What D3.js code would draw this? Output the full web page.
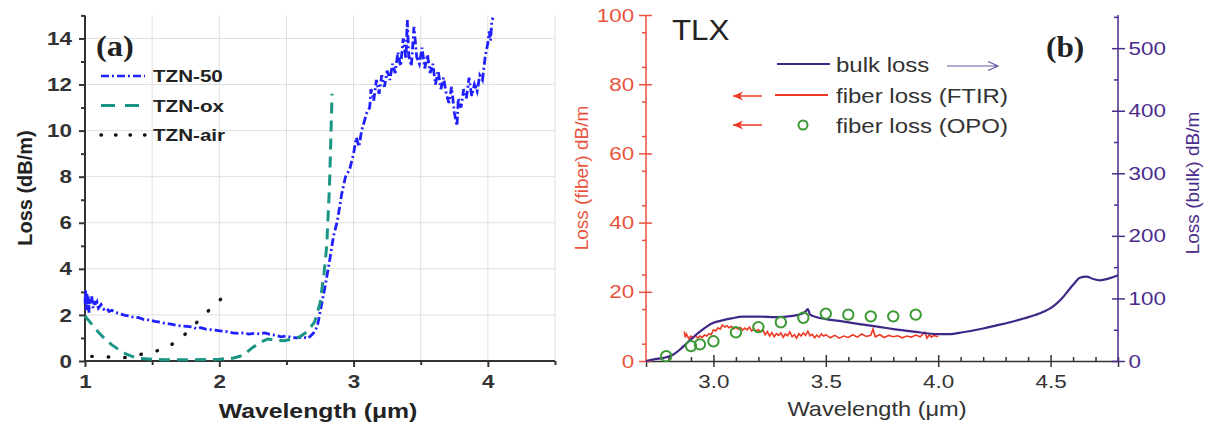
<!DOCTYPE html>
<html><head><meta charset="utf-8">
<script src="https://cdn.jsdelivr.net/npm/d3@7"></script>
<style>body{margin:0;background:#fff}svg{display:block}</style>
</head><body>
<svg id="c" width="1210" height="430"></svg>
<script>
// ---------- Panel (a) data ----------
const aXTicks = [1, 2, 3, 4];
const aYTicks = [0, 2, 4, 6, 8, 10, 12, 14];
const tzn50X = [1.00,1.005,1.01,1.015,1.02,1.025,1.03,1.035,1.04,1.05,1.06,1.07,1.08,1.09,1.10,1.12,1.14,1.16,1.18,1.20,1.23,1.26,1.30,1.33,1.36,1.40,1.44,1.48,1.52,1.56,1.60,1.64,1.68,1.72,1.76,1.80,1.83,1.86,1.90,1.94,1.98,2.02,2.06,2.10,2.14,2.18,2.22,2.26,2.30,2.34,2.38,2.42,2.46,2.50,2.54,2.58,2.62,2.66,2.70,2.73,2.76,2.79,2.82,2.85,2.88,2.91,2.94,2.97,3.00,3.02,3.04,3.06,3.08,3.10,3.12,3.13,3.15,3.17,3.19,3.21,3.23,3.25,3.27,3.29,3.31,3.33,3.35,3.37,3.39,3.40,3.41,3.43,3.45,3.47,3.49,3.51,3.53,3.55,3.57,3.59,3.61,3.63,3.65,3.67,3.69,3.71,3.73,3.75,3.77,3.78,3.80,3.82,3.84,3.86,3.88,3.90,3.92,3.94,3.96,3.98,4.00,4.01,4.02,4.03,4.04];
const tzn50Y = [2.5,3.1,2.2,2.9,2.4,2.8,2.1,2.7,2.5,2.8,2.3,2.6,2.4,2.55,2.3,2.45,2.25,2.3,2.15,2.2,2.1,2.05,1.98,1.95,1.9,1.88,1.8,1.78,1.72,1.68,1.63,1.6,1.55,1.52,1.5,1.48,1.4,1.45,1.38,1.36,1.33,1.3,1.27,1.22,1.2,1.22,1.17,1.2,1.18,1.22,1.15,1.12,1.05,1.08,1.02,1.0,1.05,0.98,1.2,1.5,2.4,3.3,4.3,5.4,6.1,7.2,8.0,8.3,9.0,9.7,9.3,10.0,10.4,10.8,11.0,11.8,11.3,12.2,11.6,12.4,11.9,12.6,12.2,12.9,12.5,13.4,12.8,14.0,13.1,14.8,13.3,12.8,14.5,13.2,12.9,13.6,12.7,13.3,12.5,12.9,12.0,12.6,11.8,12.3,11.6,11.2,11.9,10.8,10.2,11.4,11.0,11.8,11.4,12.3,11.5,12.0,11.7,12.4,12.2,13.2,13.8,14.3,13.9,14.8,14.9];
const oxX = [1.00,1.05,1.10,1.15,1.20,1.25,1.30,1.35,1.40,1.50,1.60,1.70,1.80,1.90,2.00,2.10,2.18,2.24,2.30,2.36,2.42,2.48,2.54,2.60,2.66,2.71,2.75,2.78,2.80,2.82,2.83,2.84];
const oxY = [1.95,1.6,1.25,0.95,0.7,0.5,0.32,0.2,0.12,0.08,0.05,0.05,0.05,0.06,0.08,0.12,0.25,0.55,0.8,0.95,0.9,0.88,0.95,1.05,1.3,1.7,2.5,3.8,5.0,7.5,9.5,11.6];
const airX = [1.05,1.30,1.45,1.58,1.70,1.82,1.94,2.06];
const airY = [0.2,0.15,0.33,0.5,0.9,1.6,2.3,2.95];
const aLegend = ["TZN-50", "TZN-ox", "TZN-air"];

// ---------- Panel (b) data ----------
const bXTicks = [3.0, 3.5, 4.0, 4.5];
const bLeftTicks = [0, 20, 40, 60, 80, 100];
const bRightTicks = [0, 100, 200, 300, 400, 500];
const bulkX = [2.70,2.74,2.78,2.82,2.85,2.88,2.91,2.94,2.97,3.00,3.04,3.08,3.13,3.20,3.28,3.35,3.39,3.41,3.42,3.43,3.46,3.50,3.58,3.65,3.73,3.80,3.89,4.00,4.05,4.11,4.20,4.26,4.32,4.38,4.45,4.51,4.55,4.58,4.61,4.63,4.66,4.69,4.72,4.76,4.80];
const bulkY = [0,3,5,10,18,28,38,47,55,61,65,68,71,71,70,72,75,79,83,74,70,67,63,59,55,51,47,43,43,46,52,57,62,68,76,87,100,113,126,133,135,131,129,132,137];
const ftirX = [2.87,2.875,2.88,2.89,2.90,2.91,2.92,2.93,2.94,2.95,2.96,2.97,2.98,2.99,3.00,3.01,3.02,3.03,3.04,3.05,3.06,3.07,3.08,3.09,3.10,3.11,3.12,3.13,3.14,3.15,3.16,3.17,3.18,3.19,3.20,3.21,3.22,3.23,3.24,3.25,3.26,3.27,3.28,3.29,3.30,3.31,3.32,3.33,3.34,3.35,3.36,3.37,3.38,3.39,3.40,3.41,3.42,3.43,3.44,3.45,3.46,3.47,3.48,3.49,3.50,3.52,3.54,3.56,3.58,3.60,3.62,3.64,3.66,3.68,3.70,3.71,3.72,3.74,3.76,3.78,3.80,3.82,3.84,3.86,3.88,3.90,3.92,3.94,3.95,3.96,3.97,3.98,4.00];
const ftirY = [8.5,6.8,7.8,6.5,7.2,6.6,7.4,6.6,7.2,6.8,7.5,7.2,7.9,7.6,9.0,8.7,9.6,9.2,10.4,9.8,10.2,9.6,10.0,9.3,9.8,9.2,9.7,8.9,9.5,9.0,9.8,8.7,9.3,8.6,9.1,8.4,9.0,7.6,8.5,7.2,8.2,7.0,7.9,7.4,8.1,6.8,7.8,7.3,8.4,7.0,7.6,6.6,7.9,7.2,8.1,7.4,8.6,7.3,7.7,6.7,7.5,6.9,7.8,7.2,7.6,6.7,7.4,6.6,7.2,6.8,7.6,6.9,7.8,7.1,7.4,9.2,7.0,7.6,6.8,7.4,7.0,7.3,6.7,7.2,6.9,7.5,7.0,8.3,6.6,7.6,6.9,7.4,7.0];
const opoX = [2.79,2.90,2.94,3.00,3.10,3.20,3.30,3.40,3.50,3.60,3.70,3.80,3.90];
const opoY = [1.4,4.3,4.8,5.7,8.3,9.8,11.2,12.5,13.7,13.4,12.9,12.9,13.4];
const bLegend = ["bulk loss", "fiber loss (FTIR)", "fiber loss (OPO)"];

const svg = d3.select("#c");
svg.append("rect").attr("width",1210).attr("height",430).attr("fill","#fff");
const F = "Arial, 'Liberation Sans', sans-serif";
const SX = 1.18; // the picture's type is horizontally stretched

function htext(g, x, y, str, opts) {
  const t = g.append("text").attr("transform", `translate(${x},${y}) scale(${opts.sx || SX},1)`)
    .attr("text-anchor", opts.anchor || "start")
    .style("font-family", opts.family || F).style("font-size", opts.size + "px")
    .style("font-weight", opts.weight || "normal").attr("fill", opts.fill || "#222").text(str);
  return t;
}

// ================= Panel (a) =================
const xA = d3.scaleLinear().domain([1, 4.5]).range([85, 555]);
const yA = d3.scaleLinear().domain([0, 15]).range([361, 15.4]);
const gA = svg.append("g");
// grid
gA.selectAll(".gv").data(d3.range(1.5, 4.51, 0.5)).enter().append("line")
  .attr("x1", d=>xA(d)).attr("x2", d=>xA(d)).attr("y1", yA(15)).attr("y2", yA(0))
  .attr("stroke","#e0e0e0").attr("stroke-width",1);
gA.selectAll(".gh").data(aYTicks.slice(1)).enter().append("line")
  .attr("x1", xA(1)).attr("x2", xA(4.5)).attr("y1", d=>yA(d)).attr("y2", d=>yA(d))
  .attr("stroke","#e0e0e0").attr("stroke-width",1);

function styleAxis(g, color, w, fs, fw) {
  g.select(".domain").attr("stroke", color).attr("stroke-width", w);
  g.selectAll(".tick line").attr("stroke", color).attr("stroke-width", w);
  g.selectAll("text").attr("fill", color).style("font-family", F).style("font-size", fs+"px").style("font-weight", fw)
    .attr("transform", `scale(${SX},1)`);
}
const axAx = d3.axisBottom(xA).tickValues(aXTicks).tickFormat(d3.format("d")).tickSize(6).tickPadding(8);
const axAxMinor = d3.axisBottom(xA).tickValues([1.5,2.5,3.5,4.5]).tickFormat("").tickSize(4);
const axAy = d3.axisLeft(yA).tickValues(aYTicks).tickSize(6).tickPadding(5);
const axAyMinor = d3.axisLeft(yA).tickValues([1,3,5,7,9,11,13,15]).tickFormat("").tickSize(4);
gA.append("g").attr("transform",`translate(0,${yA(0)})`).call(axAxMinor).call(g=>styleAxis(g,"#333",2,19,"bold")).select(".domain").remove();
gA.append("g").attr("transform",`translate(${xA(1)},0)`).call(axAyMinor).call(g=>styleAxis(g,"#333",2,19,"bold")).select(".domain").remove();
gA.append("g").attr("transform",`translate(0,${yA(0)})`).call(axAx).call(g=>styleAxis(g,"#333",2,19,"bold"))
  .call(g=>g.select(".domain").attr("d",`M${xA(1)},0H${xA(4.5)}`));
gA.append("g").attr("transform",`translate(${xA(1)},0)`).call(axAy).call(g=>styleAxis(g,"#333",2,19,"bold"))
  .call(g=>g.select(".domain").attr("d",`M0,${yA(15)}V${yA(0)}`));

// lines
const lineA = d3.line().x(d=>xA(d[0])).y(d=>yA(d[1]));
gA.append("path").datum(d3.zip(tzn50X, tzn50Y)).attr("d", lineA).attr("fill","none")
  .attr("stroke","#1f1fff").attr("stroke-width",2.8).attr("stroke-dasharray","8,3,2,3");
gA.append("path").datum(d3.zip(oxX, oxY)).attr("d", lineA).attr("fill","none")
  .attr("stroke","#1a9584").attr("stroke-width",3).attr("stroke-dasharray","11,7");
gA.append("path").datum(d3.zip(airX, airY)).attr("d", lineA).attr("fill","none")
  .attr("stroke","#111").attr("stroke-width",3.4).attr("stroke-linecap","round").attr("stroke-dasharray","0.5,16");

// labels
htext(gA, 318, 418, "Wavelength (μm)", {size:21, weight:"bold", anchor:"middle"});
gA.append("text").attr("transform","translate(32,188) rotate(-90)").attr("text-anchor","middle")
  .style("font-family",F).style("font-size","20px").style("font-weight","bold").attr("fill","#222").text("Loss (dB/m)");
htext(gA, 96, 56, "(a)", {size:29, weight:"bold", family:"'Liberation Serif', 'Times New Roman', serif", sx:1.12});

// legend (a)
const aStyles = [
  {c:"#1f1fff", w:2.6, da:"8,3,2,3", cap:"butt"},
  {c:"#1a9584", w:3, da:"14,10", cap:"butt"},
  {c:"#111", w:3.4, da:"0.5,14", cap:"round"}
];
const legA = gA.append("g");
aLegend.forEach((name,i)=>{
  const y = 76 + i*29.5;
  legA.append("line").attr("x1",101).attr("x2",145).attr("y1",y).attr("y2",y)
    .attr("stroke",aStyles[i].c).attr("stroke-width",aStyles[i].w).attr("stroke-dasharray",aStyles[i].da).attr("stroke-linecap",aStyles[i].cap);
  htext(legA, 153, y+6, name, {size:16.5, weight:"bold", sx:1.25});
});

// ================= Panel (b) =================
const xB = d3.scaleLinear().domain([2.7, 4.8]).range([646, 1118]);
const yL = d3.scaleLinear().domain([0, 100]).range([361, 15]);
const yR = d3.scaleLinear().domain([0, 553]).range([361, 15]);
const gB = svg.append("g");
const red = "#e8543e", purple = "#4b2c8c", grey = "#333";

// x axis (b)
const bxMinor = d3.range(2.8, 4.81, 0.1).filter(v=>Math.abs(v*2 - Math.round(v*2))>0.01);
gB.append("g").attr("transform",`translate(0,${yL(0)})`).call(d3.axisTop(xB).tickValues(bxMinor).tickFormat("").tickSize(4))
  .call(g=>styleAxis(g,grey,1.5,19,"normal")).select(".domain").remove();
gB.append("g").attr("transform",`translate(0,${yL(0)})`).call(d3.axisBottom(xB).tickValues(bXTicks).tickFormat(d3.format(".1f")).tickSize(6).tickPadding(8))
  .call(g=>styleAxis(g,grey,1.5,19,"normal"))
  .call(g=>g.selectAll(".tick line").attr("y1",-6));

// left axis (b)
gB.append("g").attr("transform",`translate(${xB(2.7)},0)`).call(d3.axisLeft(yL).tickValues(d3.range(5,100,10)).tickFormat("").tickSize(4))
  .call(g=>styleAxis(g,red,1.5,19,"normal")).select(".domain").remove();
gB.append("g").attr("transform",`translate(${xB(2.7)},0)`).call(d3.axisLeft(yL).tickValues(bLeftTicks).tickSize(7).tickPadding(3))
  .call(g=>styleAxis(g,red,1.5,19,"normal"))
  .call(g=>g.selectAll(".tick line").attr("x2",6).attr("x1",-7))
  .call(g=>g.select(".domain").attr("d",`M0,${yL(100)}V${yL(0)}`));

// right axis (b)
gB.append("g").attr("transform",`translate(${xB(4.8)},0)`).call(d3.axisLeft(yR).tickValues(d3.range(50,553,100)).tickFormat("").tickSize(4))
  .call(g=>styleAxis(g,purple,1.5,19,"normal")).select(".domain").remove();
gB.append("g").attr("transform",`translate(${xB(4.8)},0)`).call(d3.axisRight(yR).tickValues(bRightTicks).tickSize(7).tickPadding(2))
  .call(g=>styleAxis(g,purple,1.5,19,"normal"))
  .call(g=>g.selectAll(".tick line").attr("x1",-6).attr("x2",7))
  .call(g=>g.select(".domain").attr("d",`M0,${yR(553)}V${yR(0)}`));

// curves (b)
gB.append("path").datum(d3.zip(ftirX, ftirY)).attr("fill","none").attr("stroke","#ee3a24").attr("stroke-width",1.6)
  .attr("d", d3.line().x(d=>xB(d[0])).y(d=>yL(d[1])));
gB.append("path").datum(d3.zip(bulkX, bulkY)).attr("fill","none").attr("stroke","#3f2788").attr("stroke-width",2.2)
  .attr("d", d3.line().curve(d3.curveMonotoneX).x(d=>xB(d[0])).y(d=>yR(d[1])));
gB.selectAll(".opo").data(d3.zip(opoX, opoY)).enter().append("circle")
  .attr("cx", d=>xB(d[0])).attr("cy", d=>yL(d[1])).attr("r",5.2)
  .attr("fill","none").attr("stroke","#3c9a35").attr("stroke-width",2);

// labels (b)
htext(gB, 877, 416, "Wavelength (μm)", {size:20, anchor:"middle", fill:grey});
gB.append("text").attr("transform","translate(588,178) rotate(-90)").attr("text-anchor","middle")
  .style("font-family",F).style("font-size","19px").attr("fill",red).text("Loss (fiber) dB/m");
gB.append("text").attr("transform","translate(1199,183) rotate(-90)").attr("text-anchor","middle")
  .style("font-family",F).style("font-size","19px").attr("fill",purple).text("Loss (bulk) dB/m");
htext(gB, 672, 40, "TLX", {size:29, fill:"#222", sx:1.08});
htext(gB, 1046, 57, "(b)", {size:29, weight:"bold", family:"'Liberation Serif', 'Times New Roman', serif", sx:1.08});

// legend (b)
const legB = gB.append("g");
const legY = [64, 95, 125];
legB.append("line").attr("x1",777).attr("x2",830).attr("y1",legY[0]).attr("y2",legY[0]).attr("stroke","#3f2788").attr("stroke-width",2.2);
legB.append("line").attr("x1",775).attr("x2",828).attr("y1",legY[1]).attr("y2",legY[1]).attr("stroke","#ee3a24").attr("stroke-width",2);
legB.append("circle").attr("cx",803).attr("cy",legY[2]).attr("r",4.5).attr("fill","none").attr("stroke","#3c9a35").attr("stroke-width",2);
bLegend.forEach((t,i)=>{
  htext(legB, 836, legY[i]+8, t, {size:20, fill:grey, sx:1.2});
});
// arrows
function arrow(x1, x2, y, color, w, head) {
  legB.append("line").attr("x1",x1).attr("x2",x2).attr("y1",y).attr("y2",y).attr("stroke",color).attr("stroke-width",w);
  const dir = x2 > x1 ? 1 : -1;
  legB.append("path").attr("d",`M${x2},${y}L${x2-dir*head},${y-head*0.45}L${x2-dir*head*0.7},${y}L${x2-dir*head},${y+head*0.45}Z`)
    .attr("fill",color).attr("stroke","none");
}
legB.append("path").attr("d","M947,66H998M988,61.5L998,66L988,70.5").attr("fill","none").attr("stroke","#6a55a8").attr("stroke-width",1.2);
arrow(762, 733, 96, "#ee3a24", 1.5, 10);
arrow(762, 733, 125, "#ee3a24", 1.5, 10);
</script>
</body></html>
